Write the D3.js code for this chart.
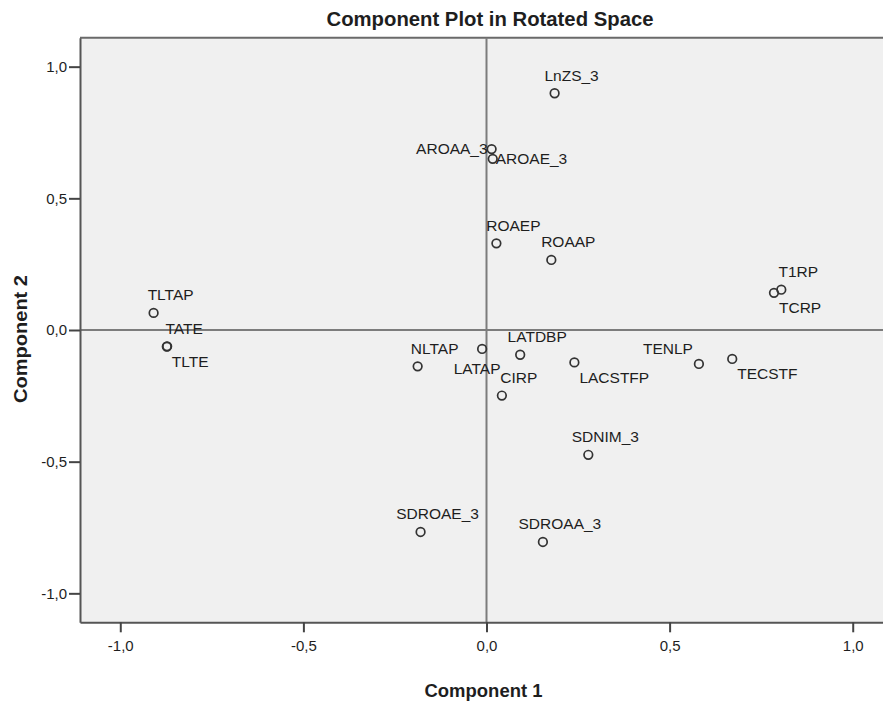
<!DOCTYPE html>
<html>
<head>
<meta charset="utf-8">
<script src="https://cdn.jsdelivr.net/npm/d3@7/dist/d3.min.js"></script>
<style>
  html, body { margin: 0; padding: 0; background: #ffffff; }
  svg { display: block; }
  text { font-family: "Liberation Sans", Arial, sans-serif; fill: #1e1e1e; }
</style>
</head>
<body>
<svg id="chart" width="883" height="703"></svg>
<script>
// ---- data ----
const variableNames = ["LnZS_3", "AROAA_3", "AROAE_3", "ROAEP", "ROAAP", "T1RP", "TCRP",
  "TLTAP", "TATE", "TLTE", "NLTAP", "LATAP", "LATDBP", "CIRP", "LACSTFP", "TENLP",
  "TECSTF", "SDNIM_3", "SDROAE_3", "SDROAA_3"];
const component1 = [0.186, 0.014, 0.017, 0.027, 0.177, 0.805, 0.785,
  -0.909, -0.872, -0.873, -0.188, -0.012, 0.092, 0.042, 0.240, 0.580,
  0.671, 0.278, -0.180, 0.154];
const component2 = [0.899, 0.687, 0.650, 0.329, 0.266, 0.153, 0.141,
  0.065, -0.062, -0.063, -0.138, -0.072, -0.094, -0.249, -0.123, -0.129,
  -0.110, -0.474, -0.767, -0.805];
// label side relative to its marker (as in the source chart)
const labelSide = ["n", "w", "e", "n", "n", "n", "se",
  "n", "n", "se", "n", "s", "n", "n", "se", "nw",
  "se", "n", "n", "n"];
const xTicks = [-1.0, -0.5, 0.0, 0.5, 1.0];
const yTicks = [-1.0, -0.5, 0.0, 0.5, 1.0];
const chartTitle = "Component Plot in Rotated Space";
const xTitle = "Component 1";
const yTitle = "Component 2";

// ---- layout ----
const svg = d3.select("#chart");
const plot = { left: 80, top: 37.7, right: 893, bottom: 622.3 };
const x = d3.scaleLinear().domain([-1.11, 1.11]).range([plot.left, plot.right]);
const y = d3.scaleLinear().domain([-1.11, 1.11]).range([plot.bottom, plot.top]);
const fmt = v => (v < 0 ? "-" : "") + Math.abs(v).toFixed(1).replace(".", ",");

// plot background
svg.append("rect")
  .attr("x", plot.left).attr("y", plot.top)
  .attr("width", plot.right - plot.left).attr("height", plot.bottom - plot.top)
  .attr("fill", "#f0f0f0");

// top border
svg.append("line")
  .attr("x1", plot.left).attr("x2", plot.right)
  .attr("y1", plot.top).attr("y2", plot.top)
  .attr("stroke", "#6a6a6a").attr("stroke-width", 2);

// zero reference lines
svg.append("line")
  .attr("x1", x(0)).attr("x2", x(0))
  .attr("y1", plot.top).attr("y2", plot.bottom)
  .attr("stroke", "#7c7c7c").attr("stroke-width", 2);
svg.append("line")
  .attr("x1", plot.left).attr("x2", plot.right)
  .attr("y1", y(0)).attr("y2", y(0))
  .attr("stroke", "#7c7c7c").attr("stroke-width", 2);

// axes
const xAxis = d3.axisBottom(x).tickValues(xTicks).tickFormat(fmt)
  .tickSizeInner(10).tickSizeOuter(0).tickPadding(8);
const yAxis = d3.axisLeft(y).tickValues(yTicks).tickFormat(fmt)
  .tickSizeInner(11).tickSizeOuter(0).tickPadding(2);

const gx = svg.append("g").attr("transform", `translate(0,${plot.bottom})`).call(xAxis);
const gy = svg.append("g").attr("transform", `translate(${plot.left},0)`).call(yAxis);
[gx, gy].forEach(g => {
  g.select(".domain").attr("stroke", "#555").attr("stroke-width", 2);
  g.selectAll(".tick line").attr("stroke", "#444").attr("stroke-width", 2);
  g.selectAll(".tick text")
    .style("font-family", '"Liberation Sans", Arial, sans-serif')
    .style("font-size", "15px").attr("fill", "#1e1e1e");
});

// points
const pts = variableNames.map((name, i) => ({ name, c1: component1[i], c2: component2[i], side: labelSide[i] }));

svg.append("g").selectAll("circle").data(pts).join("circle")
  .attr("cx", d => x(d.c1)).attr("cy", d => y(d.c2))
  .attr("r", 4.3)
  .attr("fill", "none").attr("stroke", "#333").attr("stroke-width", 1.7);

const place = {
  n:  { anchor: "middle", dx: 17,  dy: -12.5 },
  s:  { anchor: "middle", dx: -5,  dy: 25 },
  se: { anchor: "start",  dx: 5,   dy: 20.5 },
  nw: { anchor: "end",    dx: -6,  dy: -10 },
  w:  { anchor: "end",    dx: -4,  dy: 5 },
  e:  { anchor: "start",  dx: 3,   dy: 5 }
};

svg.append("g").selectAll("text").data(pts).join("text")
  .attr("x", d => x(d.c1) + place[d.side].dx)
  .attr("y", d => y(d.c2) + place[d.side].dy)
  .attr("text-anchor", d => place[d.side].anchor)
  .style("font-size", "15.5px")
  .text(d => d.name);

// titles
svg.append("text")
  .attr("x", 490).attr("y", 26)
  .attr("text-anchor", "middle")
  .style("font-size", "20px").style("font-weight", "bold")
  .attr("textLength", 327).attr("lengthAdjust", "spacingAndGlyphs")
  .text(chartTitle);

svg.append("text")
  .attr("x", 483.5).attr("y", 697)
  .attr("text-anchor", "middle")
  .style("font-size", "19px").style("font-weight", "bold")
  .attr("textLength", 118).attr("lengthAdjust", "spacingAndGlyphs")
  .text(xTitle);

svg.append("text")
  .attr("transform", "translate(27,339) rotate(-90)")
  .attr("text-anchor", "middle")
  .style("font-size", "19px").style("font-weight", "bold")
  .attr("textLength", 128).attr("lengthAdjust", "spacingAndGlyphs")
  .text(yTitle);
</script>
</body>
</html>
